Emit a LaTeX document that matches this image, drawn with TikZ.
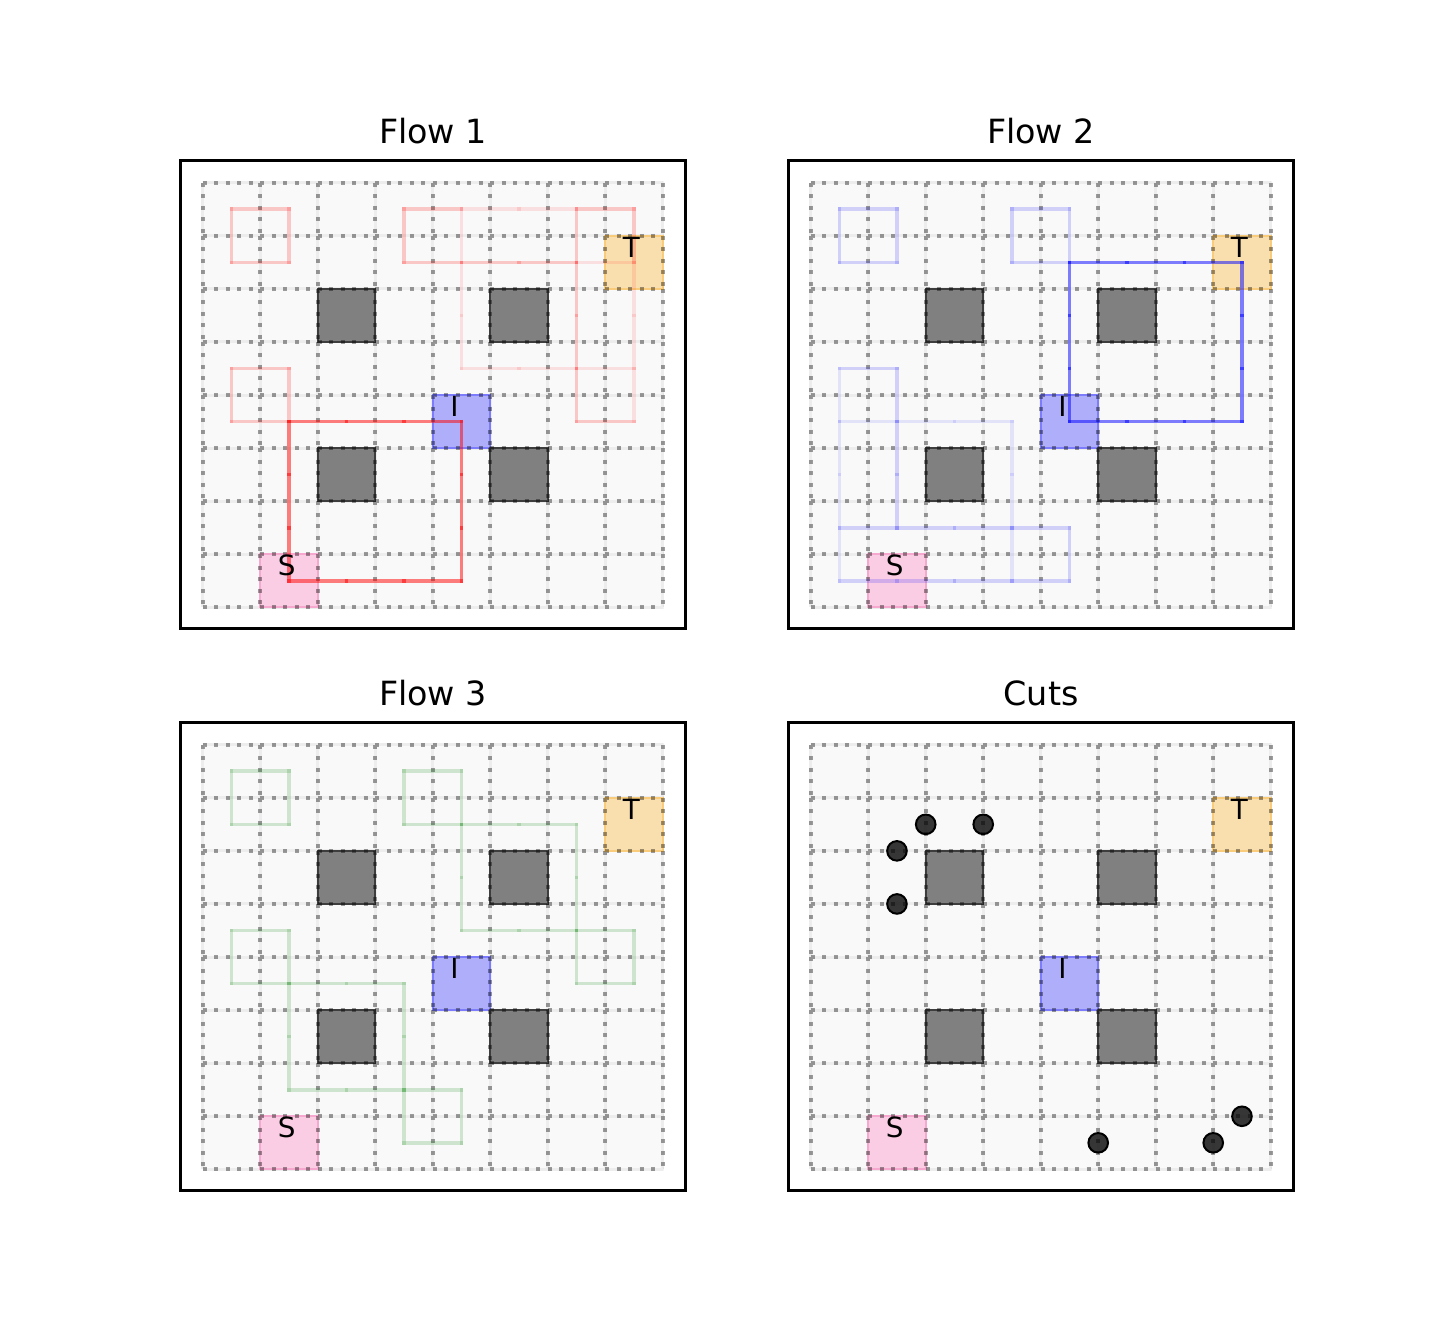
\documentclass[tikz,border=0pt]{standalone}
\usepackage{fontspec}
\setmainfont{DejaVu Sans}
\definecolor{bgc}{HTML}{F9F9F9}
\definecolor{fgrid}{HTML}{EDEDED}
\definecolor{sfill}{HTML}{FACDE4}
\definecolor{sedge}{HTML}{F6A8CE}
\definecolor{tfill}{HTML}{FADFAE}
\definecolor{tedge}{HTML}{F8CC7A}
\definecolor{ifill}{HTML}{AEAEFA}
\definecolor{iedge}{HTML}{7C7CFC}
\definecolor{obstc}{HTML}{808080}
\definecolor{obste}{HTML}{3D3D3D}
\definecolor{flowgreen}{HTML}{008000}
\tikzset{
  frame/.style={draw=black, line width=1.1pt},
  title/.style={font=\fontsize{16.67}{20}\selectfont, anchor=base, inner sep=0pt},
  lab/.style={font=\fontsize{13.9}{16}\selectfont, anchor=base west, inner sep=0pt},
  faintgrid/.style={draw=fgrid, line width=1.5pt},
  griddots/.style={draw=black, draw opacity=0.38, line width=2pt, dash pattern=on 2pt off 3.75pt},
  obst/.style={fill=obstc, draw=obste, line width=1pt},
  flowseg/.style={line width=1.8pt, line cap=rect},
  redS/.style={flowseg, draw=red, draw opacity=0.5},
  redM/.style={flowseg, draw=red, draw opacity=0.2},
  redL/.style={flowseg, draw=red, draw opacity=0.1},
  blueS/.style={flowseg, draw=blue, draw opacity=0.5},
  blueM/.style={flowseg, draw=blue, draw opacity=0.16},
  blueL/.style={flowseg, draw=blue, draw opacity=0.09},
  greenM/.style={flowseg, draw=flowgreen, draw opacity=0.17},
  greenL/.style={flowseg, draw=flowgreen, draw opacity=0.1},
  cutdot/.style={fill=black, fill opacity=0.78, draw=black, line width=1pt},
}
% horizontal run: style, row, from col, to col
\newcommand\hseg[4]{\pgfmathtruncatemacro\hsl{#4-1}\foreach \k in {#3,...,\hsl}{\draw[#1] (\k+.5,#2+.5) -- ++(1,0);}}
% vertical run: style, col, from row, to row
\newcommand\vseg[4]{\pgfmathtruncatemacro\vsl{#4-1}\foreach \k in {#3,...,\vsl}{\draw[#1] (#2+.5,\k+.5) -- ++(0,1);}}
\newcommand\sq[3]{\hseg{#1}{#3}{#2}{#2+1}\hseg{#1}{#3+1}{#2}{#2+1}\vseg{#1}{#2}{#3}{#3+1}\vseg{#1}{#2+1}{#3}{#3+1}}
\newcommand\basegrid{%
  \fill[bgc] (0,0) rectangle (8,8);
  \draw[faintgrid] foreach \i in {0,...,8}{(\i,0) -- (\i,8) (0,\i) -- (8,\i)};
  \filldraw[fill=sfill, draw=sedge, line width=1pt] (1,7) rectangle (2,8);
  \filldraw[fill=tfill, draw=tedge, line width=1pt] (7,1) rectangle (8,2);
  \filldraw[fill=ifill, draw=iedge, line width=1pt] (4,4) rectangle (5,5);
  \foreach \c/\r in {2/2,5/2,2/5,5/5}{\filldraw[obst] (\c,\r) rectangle ++(1,1);}
  \draw[griddots] foreach \i in {0,...,7}{foreach \j in {0,...,8}{(\i,\j) -- ++(1,0)}}
                  foreach \i in {0,...,8}{foreach \j in {0,...,7}{(\i,\j) -- ++(0,1)}};
}
\newcommand\labels[1]{%
  \node[lab] (S#1) at (1.3,7.406) {S};
  \node[lab] (T#1) at (7.3,1.406) {T};
  \node[lab] (I#1) at (4.3,4.406) {I};
}
\begin{document}
\begin{tikzpicture}[x=0.5pt, y=-0.5pt]
\useasboundingbox[fill=white] (0,0) rectangle (1438,1338);

% ---------- Flow 1 ----------
\node[title] (title1) at (433,143.5) {Flow 1};
\begin{scope}[shift={(101.35pt,-91.35pt)}, x=28.75pt, y=-26.54pt]
  \basegrid
  \sq{redM}{0}{0}
  \sq{redM}{0}{3}
  \hseg{redM}{0}{3}{4}
  \hseg{redL}{0}{4}{6}
  \hseg{redM}{0}{6}{7}
  \vseg{redM}{3}{0}{1}
  \hseg{redM}{1}{3}{6}
  \hseg{redL}{1}{6}{7}
  \vseg{redL}{4}{0}{3}
  \vseg{redM}{6}{0}{4}
  \vseg{redM}{7}{0}{1}
  \vseg{redL}{7}{1}{4}
  \hseg{redL}{3}{4}{7}
  \hseg{redM}{4}{6}{7}
  \hseg{redS}{4}{1}{4}
  \hseg{redS}{7}{1}{4}
  \vseg{redS}{1}{4}{7}
  \vseg{redS}{4}{4}{7}
  \labels{1}
\end{scope}
\draw[frame] (180.5,160.5) rectangle (685.5,628.5);

% ---------- Flow 2 ----------
\node[title] (title2) at (1041,143.5) {Flow 2};
\begin{scope}[shift={(405.35pt,-91.35pt)}, x=28.75pt, y=-26.54pt]
  \basegrid
  \sq{blueM}{0}{0}
  \sq{blueM}{3}{0}
  \hseg{blueM}{3}{0}{1}
  \vseg{blueL}{0}{3}{7}
  \vseg{blueM}{1}{3}{6}
  \hseg{blueL}{4}{0}{3}
  \vseg{blueL}{3}{4}{7}
  \hseg{blueM}{6}{0}{4}
  \vseg{blueM}{4}{6}{7}
  \hseg{blueM}{7}{0}{4}
  \hseg{blueS}{1}{4}{7}
  \hseg{blueS}{4}{4}{7}
  \vseg{blueS}{4}{1}{4}
  \vseg{blueS}{7}{1}{4}
  \labels{2}
\end{scope}
\draw[frame] (788.5,160.5) rectangle (1293.5,628.5);

% ---------- Flow 3 ----------
\node[title] (title3) at (433,705.5) {Flow 3};
\begin{scope}[shift={(101.35pt,-372.35pt)}, x=28.75pt, y=-26.54pt]
  \basegrid
  \sq{greenM}{0}{0}
  \hseg{greenM}{0}{3}{4}
  \vseg{greenM}{3}{0}{1}
  \vseg{greenM}{4}{0}{3}
  \hseg{greenM}{1}{3}{6}
  \vseg{greenM}{6}{1}{4}
  \hseg{greenM}{3}{4}{7}
  \vseg{greenM}{7}{3}{4}
  \hseg{greenM}{4}{6}{7}
  \hseg{greenM}{3}{0}{1}
  \vseg{greenM}{0}{3}{4}
  \vseg{greenM}{1}{3}{6}
  \hseg{greenM}{4}{0}{3}
  \vseg{greenM}{3}{4}{7}
  \hseg{greenM}{6}{1}{4}
  \vseg{greenM}{4}{6}{7}
  \hseg{greenM}{7}{3}{4}
  \labels{3}
\end{scope}
\draw[frame] (180.5,722.5) rectangle (685.5,1190.5);

% ---------- Cuts ----------
\node[title] (title4) at (1041,705.5) {Cuts};
\begin{scope}[shift={(405.35pt,-372.35pt)}, x=28.75pt, y=-26.54pt]
  \basegrid
  \foreach \px/\py in {2/1.5, 3/1.5, 1.5/2, 1.5/3, 5/7.5, 7/7.5, 7.5/7}{
    \filldraw[cutdot] (\px,\py) circle (4.9pt);}
  \labels{4}
\end{scope}
\draw[frame] (788.5,722.5) rectangle (1293.5,1190.5);
\end{tikzpicture}
\end{document}
